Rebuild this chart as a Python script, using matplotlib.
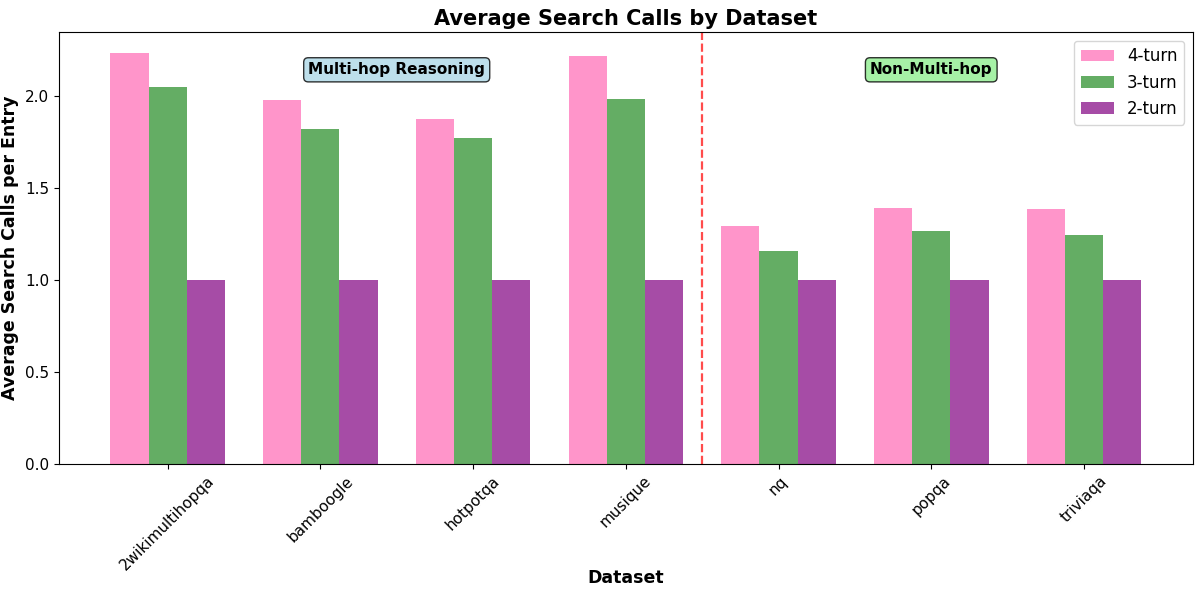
import numpy as np
import matplotlib.pyplot as plt

datasets = ['2wikimultihopqa', 'bamboogle', 'hotpotqa', 'musique', 'nq', 'popqa', 'triviaqa']
turn4 = [2.238, 1.978, 1.877, 2.222, 1.293, 1.395, 1.385]
turn3 = [2.049, 1.824, 1.773, 1.984, 1.157, 1.265, 1.245]
turn2 = [1.0, 1.0, 1.0, 1.0, 1.0, 1.0, 1.0]

x = np.arange(len(datasets))
w = 0.25

fig, ax = plt.subplots(figsize=(12, 5.96), dpi=100)
ax.bar(x - w, turn4, w, label='4-turn', color='hotpink', alpha=0.7)
ax.bar(x, turn3, w, label='3-turn', color='forestgreen', alpha=0.7)
ax.bar(x + w, turn2, w, label='2-turn', color='purple', alpha=0.7)

ax.axvline(3.5, color='red', linestyle='--', alpha=0.7, linewidth=1.6)

ax.text(1.5, 2.145, 'Multi-hop Reasoning', ha='center', va='center', fontsize=11,
        fontweight='bold', bbox=dict(boxstyle='round,pad=0.3', facecolor='lightblue', alpha=0.8))
ax.text(5, 2.145, 'Non-Multi-hop', ha='center', va='center', fontsize=11,
        fontweight='bold', bbox=dict(boxstyle='round,pad=0.3', facecolor='lightgreen', alpha=0.8))

ax.set_xticks(x)
ax.set_xticklabels(datasets, rotation=45, fontsize=11)
ax.tick_params(axis='y', labelsize=11)
ax.set_xlabel('Dataset', fontsize=12.5, fontweight='bold', labelpad=-3)
ax.set_ylabel('Average Search Calls per Entry', fontsize=12.5, fontweight='bold')
ax.set_title('Average Search Calls by Dataset', fontsize=15, fontweight='bold', pad=5)
ax.legend(fontsize=12, loc='upper right')

plt.subplots_adjust(left=0.049, right=0.994, top=0.946, bottom=0.222)
plt.savefig('out.png')
